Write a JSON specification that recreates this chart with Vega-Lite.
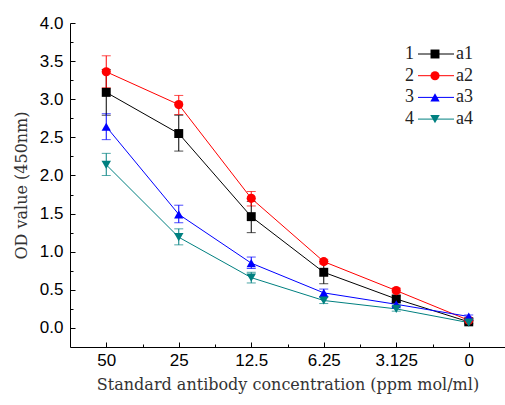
{
  "$schema": "https://vega.github.io/schema/vega-lite/v6.json",
  "width": 435,
  "height": 324,
  "autosize": {"type": "none"},
  "padding": {"left": 70, "top": 23, "right": 0, "bottom": 58},
  "background": "white",
  "config": {
    "view": {"stroke": null},
    "axis": {"grid": false, "domainColor": "black", "tickColor": "black", "labelColor": "black", "labelFont": "Liberation Sans", "labelFontSize": 17, "titleFont": "DejaVu Serif", "titleFontSize": 16, "titleFontWeight": "normal", "titleColor": "#333333"}
  },
  "data": {
    "values": [
      {"pos": 1, "conc": "50", "series": "a1", "num": "1", "od": 3.09, "lo": 2.79, "hi": 3.39},
      {"pos": 2, "conc": "25", "series": "a1", "num": "1", "od": 2.55, "lo": 2.32, "hi": 2.79},
      {"pos": 3, "conc": "12.5", "series": "a1", "num": "1", "od": 1.46, "lo": 1.25, "hi": 1.66},
      {"pos": 4, "conc": "6.25", "series": "a1", "num": "1", "od": 0.73, "lo": 0.58, "hi": 0.87},
      {"pos": 5, "conc": "3.125", "series": "a1", "num": "1", "od": 0.38, "lo": 0.34, "hi": 0.42},
      {"pos": 6, "conc": "0", "series": "a1", "num": "1", "od": 0.08, "lo": 0.06, "hi": 0.1},
      {"pos": 1, "conc": "50", "series": "a2", "num": "2", "od": 3.36, "lo": 3.15, "hi": 3.57},
      {"pos": 2, "conc": "25", "series": "a2", "num": "2", "od": 2.93, "lo": 2.8, "hi": 3.05},
      {"pos": 3, "conc": "12.5", "series": "a2", "num": "2", "od": 1.7, "lo": 1.6, "hi": 1.79},
      {"pos": 4, "conc": "6.25", "series": "a2", "num": "2", "od": 0.87, "lo": 0.84, "hi": 0.9},
      {"pos": 5, "conc": "3.125", "series": "a2", "num": "2", "od": 0.49, "lo": 0.46, "hi": 0.52},
      {"pos": 6, "conc": "0", "series": "a2", "num": "2", "od": 0.1, "lo": 0.08, "hi": 0.12},
      {"pos": 1, "conc": "50", "series": "a3", "num": "3", "od": 2.64, "lo": 2.47, "hi": 2.81},
      {"pos": 2, "conc": "25", "series": "a3", "num": "3", "od": 1.49, "lo": 1.38, "hi": 1.61},
      {"pos": 3, "conc": "12.5", "series": "a3", "num": "3", "od": 0.85, "lo": 0.78, "hi": 0.93},
      {"pos": 4, "conc": "6.25", "series": "a3", "num": "3", "od": 0.46, "lo": 0.41, "hi": 0.51},
      {"pos": 5, "conc": "3.125", "series": "a3", "num": "3", "od": 0.31, "lo": 0.28, "hi": 0.34},
      {"pos": 6, "conc": "0", "series": "a3", "num": "3", "od": 0.15, "lo": 0.13, "hi": 0.17},
      {"pos": 1, "conc": "50", "series": "a4", "num": "4", "od": 2.14, "lo": 2.0, "hi": 2.29},
      {"pos": 2, "conc": "25", "series": "a4", "num": "4", "od": 1.19, "lo": 1.09, "hi": 1.3},
      {"pos": 3, "conc": "12.5", "series": "a4", "num": "4", "od": 0.66, "lo": 0.59, "hi": 0.73},
      {"pos": 4, "conc": "6.25", "series": "a4", "num": "4", "od": 0.36, "lo": 0.32, "hi": 0.4},
      {"pos": 5, "conc": "3.125", "series": "a4", "num": "4", "od": 0.25, "lo": 0.22, "hi": 0.28},
      {"pos": 6, "conc": "0", "series": "a4", "num": "4", "od": 0.07, "lo": 0.05, "hi": 0.09}
    ]
  },
  "layer": [
    {
      "mark": {"type": "errorbar", "ticks": {"size": 9, "strokeWidth": 1}, "rule": {"strokeWidth": 1}},
      "encoding": {
        "x": {"field": "pos", "type": "quantitative", "scale": {"domain": [0.5, 6.5], "nice": false, "zero": false}, "axis": null},
        "y": {"field": "lo", "type": "quantitative", "scale": {"domain": [-0.25, 4.0], "nice": false, "zero": false}, "axis": null},
        "y2": {"field": "hi"},
        "color": {"field": "series", "type": "nominal", "scale": {"domain": ["a1", "a2", "a3", "a4"], "range": ["#000000", "#ff0000", "#0000ff", "#008080"]}, "legend": null}
      }
    },
    {
      "mark": {"type": "line", "strokeWidth": 1},
      "encoding": {
        "x": {"field": "pos", "type": "quantitative", "axis": null},
        "y": {"field": "od", "type": "quantitative", "axis": null},
        "color": {"field": "num", "type": "nominal", "scale": {"domain": ["1", "2", "3", "4"], "range": ["#000000", "#ff0000", "#0000ff", "#008080"]},
          "legend": {"orient": "none", "legendX": 357, "legendY": 22, "title": null, "padding": 0, "symbolType": "M-3,0H3", "symbolSize": 144, "symbolStrokeWidth": 1, "labelAlign": "right", "labelOffset": -31, "labelFont": "Liberation Serif", "labelFontSize": 18, "labelColor": "#222222", "rowPadding": 3.7}}
      }
    },
    {
      "mark": {"type": "point", "filled": true, "opacity": 1},
      "encoding": {
        "x": {"field": "pos", "type": "quantitative",
          "axis": {"orient": "bottom", "values": [1, 2, 3, 4, 5, 6], "labelExpr": "['50','25','12.5','6.25','3.125','0'][datum.value-1]", "tickSize": -5, "labelPadding": 10, "title": "Standard antibody concentration (ppm mol/ml)", "titlePadding": 8}},
        "y": {"field": "od", "type": "quantitative",
          "axis": {"orient": "left", "values": [0, 0.5, 1, 1.5, 2, 2.5, 3, 3.5, 4], "format": ".1f", "tickSize": -5, "labelPadding": 12, "title": "OD value (450nm)", "titlePadding": 10}},
        "color": {"field": "series", "type": "nominal", "scale": {"domain": ["a1", "a2", "a3", "a4"], "range": ["#000000", "#ff0000", "#0000ff", "#008080"]},
          "legend": {"orient": "none", "legendX": 356, "legendY": 22, "title": null, "padding": 0, "symbolStrokeWidth": 0, "labelOffset": 12, "labelFont": "Liberation Serif", "labelFontSize": 18, "labelColor": "#222222", "rowPadding": 3.7}},
        "shape": {"field": "series", "type": "nominal", "scale": {"domain": ["a1", "a2", "a3", "a4"], "range": ["square", "circle", "triangle-up", "triangle-down"]},
          "legend": {"orient": "none", "legendX": 356, "legendY": 22, "title": null, "padding": 0, "symbolStrokeWidth": 0, "labelOffset": 12, "labelFont": "Liberation Serif", "labelFontSize": 18, "labelColor": "#222222", "rowPadding": 3.7}},
        "size": {"field": "series", "type": "nominal", "scale": {"domain": ["a1", "a2", "a3", "a4"], "range": [80, 90, 115, 115]}, "legend": null}
      }
    },
    {
      "mark": {"type": "point", "opacity": 0},
      "encoding": {
        "x": {"field": "pos", "type": "quantitative",
          "axis": {"orient": "bottom", "values": [1.5, 2.5, 3.5, 4.5, 5.5], "tickSize": -3, "labels": false, "domain": false, "title": null}},
        "y": {"field": "od", "type": "quantitative",
          "axis": {"orient": "left", "values": [0.25, 0.75, 1.25, 1.75, 2.25, 2.75, 3.25, 3.75], "tickSize": -3, "labels": false, "domain": false, "title": null}}
      }
    }
  ],
  "resolve": {"scale": {"color": "independent", "shape": "independent", "size": "independent"}, "axis": {"x": "independent", "y": "independent"}}
}
